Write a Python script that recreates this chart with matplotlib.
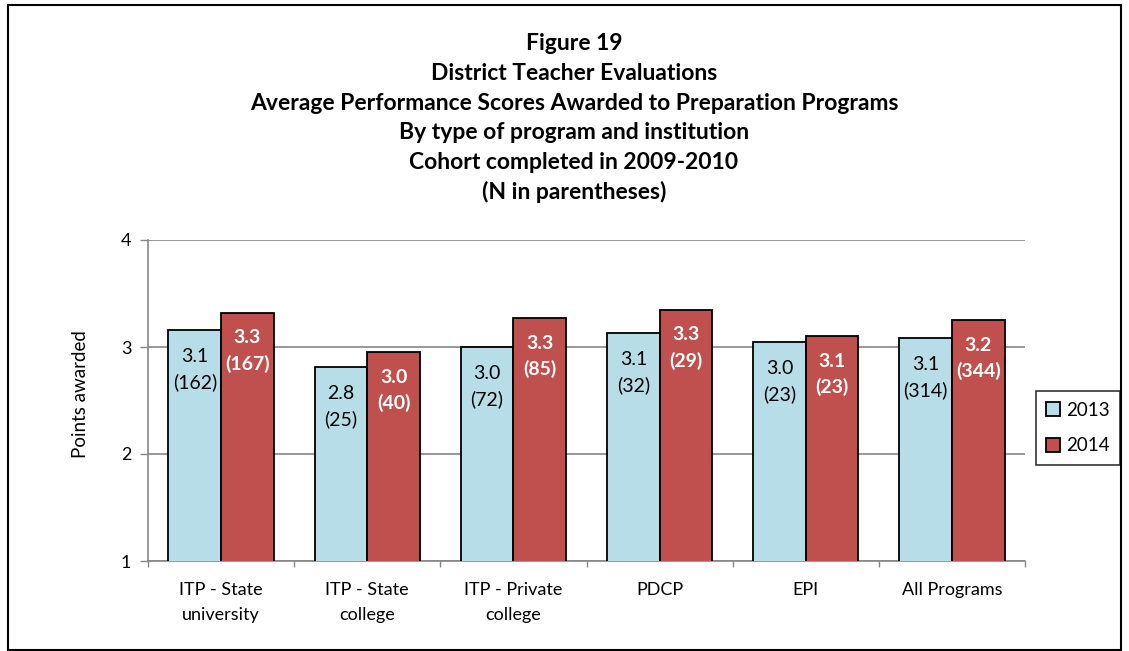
import matplotlib
matplotlib.use("Agg")
import matplotlib.pyplot as plt
from matplotlib.patches import Rectangle
import numpy as np

plt.rcParams["font.family"] = "Lato"

# ----- data -----
categories = ["ITP - State\nuniversity", "ITP - State\ncollege", "ITP - Private\ncollege",
              "PDCP", "EPI", "All Programs"]
scores_2013 = [3.16, 2.81, 3.00, 3.13, 3.05, 3.08]
scores_2014 = [3.32, 2.95, 3.27, 3.35, 3.10, 3.25]
labels_2013 = ["3.1\n(162)", "2.8\n(25)", "3.0\n(72)", "3.1\n(32)", "3.0\n(23)", "3.1\n(314)"]
labels_2014 = ["3.3\n(167)", "3.0\n(40)", "3.3\n(85)", "3.3\n(29)", "3.1\n(23)", "3.2\n(344)"]
series_names = ["2013", "2014"]
title_lines = [
    "Figure 19",
    "District Teacher Evaluations",
    "Average Performance Scores Awarded to Preparation Programs",
    "By type of program and institution",
    "Cohort completed in 2009-2010",
    "(N in parentheses)",
]

COLOR_2013 = "#B7DEE8"
COLOR_2014 = "#C0504D"
GRID = "#868686"

W, H = 1129, 651
fig = plt.figure(figsize=(W / 100, H / 100), dpi=100)
ax = fig.add_axes([148 / W, 1 - 561 / H, (1025 - 148) / W, (561 - 240) / H])

x = np.arange(len(categories)) + 0.5
bw = 0.36
b1 = ax.bar(x - bw / 2, scores_2013, bw, bottom=0, color=COLOR_2013,
            edgecolor="black", linewidth=1.3, label=series_names[0], zorder=3)
b2 = ax.bar(x + bw / 2, scores_2014, bw, bottom=0, color=COLOR_2014,
            edgecolor="black", linewidth=1.3, label=series_names[1], zorder=3)

for rect, lab in zip(b1, labels_2013):
    ax.annotate(lab, (rect.get_x() + rect.get_width() / 2, rect.get_height()),
                xytext=(0, -13), textcoords="offset points", ha="center", va="top",
                fontsize=14, color="black", linespacing=1.55, zorder=4)
for rect, lab in zip(b2, labels_2014):
    ax.annotate(lab, (rect.get_x() + rect.get_width() / 2, rect.get_height()),
                xytext=(0, -12), textcoords="offset points", ha="center", va="top",
                fontsize=14, color="white", fontweight="bold", linespacing=1.55, zorder=4)

ax.set_xlim(0, len(categories))
ax.set_ylim(1, 4)
ax.set_yticks([1, 2, 3, 4])
ax.tick_params(axis="y", length=6, width=1, color=GRID, pad=6, labelsize=13)
ax.set_xticks(np.arange(len(categories) + 1))
ax.set_xticklabels([])
ax.tick_params(axis="x", which="major", length=4, width=1, color=GRID)
ax.set_xticks(x, minor=True)
ax.set_xticklabels(categories, minor=True, fontsize=13, linespacing=1.7)
ax.tick_params(axis="x", which="minor", length=0, pad=15)

ax.grid(axis="y", color=GRID, linewidth=1.2, zorder=0)
for side in ["top", "right"]:
    ax.spines[side].set_visible(False)
for side in ["left", "bottom"]:
    ax.spines[side].set_color(GRID)
    ax.spines[side].set_linewidth(1.2)

fig.text(80 / W, 1 - 394 / H, "Points awarded", rotation=90, ha="center", va="center", fontsize=13.5)

for i, line in enumerate(title_lines):
    fig.text(574 / W, 1 - (44 + i * 29.6) / H, line, ha="center", va="center",
             fontsize=16.5, fontweight="bold")

leg = fig.legend(loc="center", bbox_to_anchor=(1078 / W, 1 - 428 / H), fontsize=13.5,
                 frameon=True, fancybox=False, edgecolor="black", handlelength=0.75,
                 handleheight=0.75, handletextpad=0.35, labelspacing=1.0, borderpad=0.55,
                 borderaxespad=0)
leg.get_frame().set_linewidth(1.2)

fig.patches.append(Rectangle((8 / W, 1 / H), (1121 - 8) / W, (646 - 1) / H,
                             transform=fig.transFigure, fill=False,
                             edgecolor="black", linewidth=1.5))

fig.savefig("out.png", dpi=100)
